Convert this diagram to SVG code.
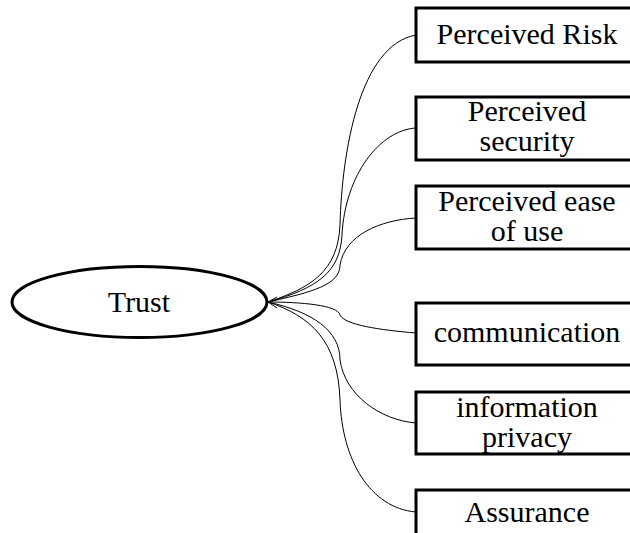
<svg xmlns="http://www.w3.org/2000/svg" width="630" height="533" viewBox="0 0 630 533">
<style>
.box{fill:#fff;stroke:#000;stroke-width:3}
text{font-family:'Liberation Serif','Times New Roman',serif;font-size:30px;fill:#000;text-anchor:middle}
.c{fill:none;stroke:#000;stroke-width:1}
</style>
<rect width="630" height="533" fill="#fff"/>
<g id="connectors">
<path class="c" d="M268,302 C310,288 338,272 340,225 C342,150 360,45 416,35"/>
<path class="c" d="M268,302 C318,288 340,272 342,235 C345,175 380,130 416,128"/>
<path class="c" d="M268,302 C312,292 340,285 340,265 C345,235 380,220 416,218"/>
<path class="c" d="M268,302 C300,302 338,305 340,315 C345,325 380,330 416,333"/>
<path class="c" d="M268,302 C312,312 340,330 340,360 C345,395 380,420 416,423"/>
<path class="c" d="M268,302 C310,316 338,340 340,400 C342,460 370,508 416,512"/>
<path class="c" d="M277,297 L268,302 L277,308"/>
</g>
<g id="trust">
<ellipse cx="139.5" cy="302" rx="127.5" ry="35.5" fill="#fff" stroke="#000" stroke-width="3"/>
<text x="139" y="312">Trust</text>
</g>
<g id="perceived-risk">
<rect class="box" x="416" y="8" width="230" height="54"/>
<text x="527" y="44">Perceived Risk</text>
</g>
<g id="perceived-security">
<rect class="box" x="416" y="97" width="230" height="63"/>
<text x="527" y="121">Perceived</text>
<text x="527" y="151">security</text>
</g>
<g id="perceived-ease">
<rect class="box" x="416" y="186" width="230" height="63"/>
<text x="527" y="211">Perceived ease</text>
<text x="527" y="241">of use</text>
</g>
<g id="communication">
<rect class="box" x="416" y="303" width="230" height="62"/>
<text x="527" y="342">communication</text>
</g>
<g id="information-privacy">
<rect class="box" x="416" y="392" width="230" height="62"/>
<text x="527" y="417">information</text>
<text x="527" y="447">privacy</text>
</g>
<g id="assurance">
<rect class="box" x="416" y="490" width="230" height="60"/>
<text x="527" y="522">Assurance</text>
</g>
</svg>
